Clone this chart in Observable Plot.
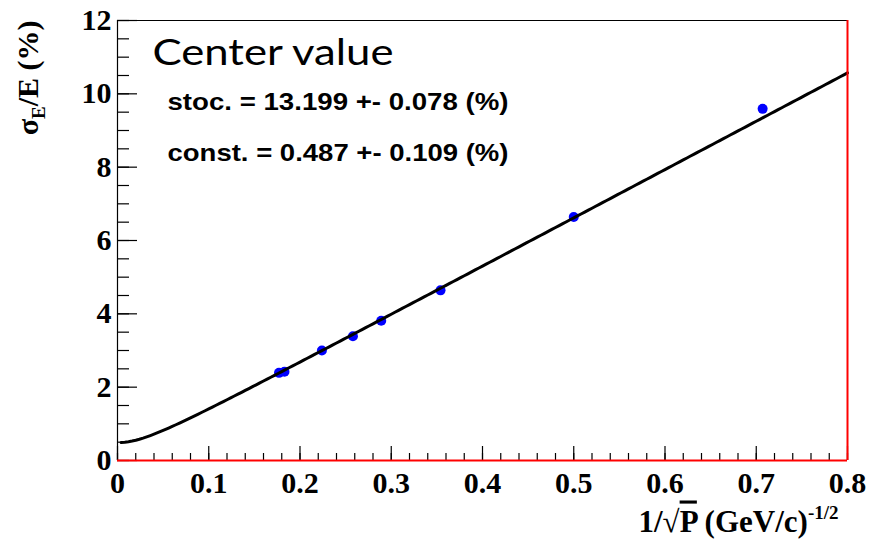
<!DOCTYPE html>
<html>
<head>
<meta charset="utf-8">
<script src="https://cdn.jsdelivr.net/npm/d3@7"></script>
<script src="https://cdn.jsdelivr.net/npm/@observablehq/plot@0.6"></script>
<style>
  html, body { margin: 0; padding: 0; background: #fff; }
</style>
</head>
<body>
<div id="chart"></div>
<script>
// Energy resolution versus 1/sqrt(P)
const invSqrtP   = [0.177, 0.183, 0.224, 0.258, 0.289, 0.354, 0.500, 0.707];
const resolution = [2.39, 2.42, 3.00, 3.39, 3.81, 4.64, 6.64, 9.59];

// Fit parameters (percent)
const stoc = 13.199, stocErr = 0.078;
const constTerm = 0.487, constErr = 0.109;

// Axis ticks
const xTicks = [0, 0.1, 0.2, 0.3, 0.4, 0.5, 0.6, 0.7, 0.8];
const yTicks = [0, 2, 4, 6, 8, 10, 12];
const xMinor = d3.range(0, 0.8001, 0.02);
const yMinor = d3.range(0, 12.001, 0.5);

const points = invSqrtP.map((x, i) => ({x, y: resolution[i]}));

// Fit curve sigma/E = stoc/sqrt(P) (+) const, sampled along x
const curve = d3.range(0.004, 0.8001, 0.004).map(x => ({x, y: Math.hypot(stoc * x, constTerm)}));

const W = 872, H = 539;
const mL = 117, mR = 25, mT = 20, mB = 79;
const plotW = W - mL - mR, plotH = H - mT - mB;
const serif = "'Liberation Serif', 'Times New Roman', serif";
const sans = "'Liberation Sans', Arial, sans-serif";

const yTitle = "σE/E (%)";
const xTitle = "1/√P (GeV/c)-1/2";
const heading = "Center value";
const stocLabel = `stoc. = ${stoc.toFixed(3)} +- ${stocErr.toFixed(3)} (%)`;
const constLabel = `const. = ${constTerm.toFixed(3)} +- ${constErr.toFixed(3)} (%)`;

const svg = Plot.plot({
  width: W,
  height: H,
  marginLeft: mL,
  marginRight: mR,
  marginTop: mT,
  marginBottom: mB,
  style: {fontFamily: serif, background: "#fff", color: "#000"},
  x: {domain: [0, 0.8]},
  y: {domain: [0, 12]},
  marks: [
    // inward ticks
    Plot.ruleX(xMinor, {insetTop: plotH - 7, stroke: "#000", strokeWidth: 1.2}),
    Plot.ruleX(xTicks, {insetTop: plotH - 14, stroke: "#000", strokeWidth: 1.2}),
    Plot.ruleY(yMinor, {insetRight: plotW - 12, stroke: "#000", strokeWidth: 1.2}),
    Plot.ruleY(yTicks, {insetRight: plotW - 20, stroke: "#000", strokeWidth: 1.2}),
    // measurements
    Plot.dot(points, {x: "x", y: "y", r: 5, fill: "#0000ff", stroke: "none"}),
    // fit
    Plot.line(curve, {x: "x", y: "y", stroke: "#000", strokeWidth: 3}),
    // frame
    Plot.ruleY([12], {stroke: "#000", strokeWidth: 1.2}),
    Plot.ruleX([0], {stroke: "#000", strokeWidth: 1.2}),
    Plot.ruleX([0.8], {stroke: "#ff0000", strokeWidth: 2}),
    Plot.ruleY([0], {stroke: "#ff0000", strokeWidth: 2}),
    // tick labels
    Plot.axisX(xTicks, {tickSize: 0, tickPadding: 11, fontSize: 30, fontWeight: "bold", label: null,
      tickFormat: d => d === 0 ? "0" : d.toFixed(1)}),
    Plot.axisY(yTicks, {tickSize: 0, tickPadding: 6, fontSize: 30, fontWeight: "bold", label: null}),
    // axis titles
    Plot.text([yTitle], {frameAnchor: "top-left", dx: -89, dy: 0, rotate: -90,
      textAnchor: "end", lineAnchor: "middle", fontSize: 30, fontWeight: "bold"}),
    Plot.text([xTitle], {frameAnchor: "bottom-right", dx: -9, dy: 71,
      textAnchor: "end", lineAnchor: "bottom", fontSize: 31, fontWeight: "bold"}),
    // annotations
    Plot.text([heading], {frameAnchor: "top-left", dx: 35, dy: 44, textAnchor: "start",
      lineAnchor: "bottom", fontSize: 36, fontFamily: "Lato, 'Open Sans', sans-serif"}),
    Plot.text([stocLabel], {frameAnchor: "top-left", dx: 50, dy: 89, textAnchor: "start",
      lineAnchor: "bottom", fontSize: 24, fontWeight: "bold", fontFamily: sans}),
    Plot.text([constLabel], {frameAnchor: "top-left", dx: 50, dy: 140, textAnchor: "start",
      lineAnchor: "bottom", fontSize: 24, fontWeight: "bold", fontFamily: sans})
  ]
});

const root = d3.select(svg);
const textNode = s => root.selectAll("text").filter(function () { return this.textContent === s; });

// subscript E in the y title
const yt = textNode(yTitle);
yt.text(null);
yt.append("tspan").text("σ");
yt.append("tspan").attr("font-size", 19).attr("dy", 7).text("E");
yt.append("tspan").attr("dy", -7).text("/E (%)");

// overlined P and superscript exponent in the x title
const xt = textNode(xTitle);
xt.text(null);
xt.append("tspan").text("1/√");
xt.append("tspan").style("text-decoration", "overline").text("P");
xt.append("tspan").text(" (GeV/c)");
xt.append("tspan").attr("font-size", 19).attr("dy", -13).text("-1/2");

// widen the annotation lines to their drawn extent
textNode(heading).attr("textLength", 241).attr("lengthAdjust", "spacingAndGlyphs");
textNode(stocLabel).attr("textLength", 341).attr("lengthAdjust", "spacingAndGlyphs");
textNode(constLabel).attr("textLength", 341).attr("lengthAdjust", "spacingAndGlyphs");

document.getElementById("chart").appendChild(svg);
</script>
</body>
</html>
